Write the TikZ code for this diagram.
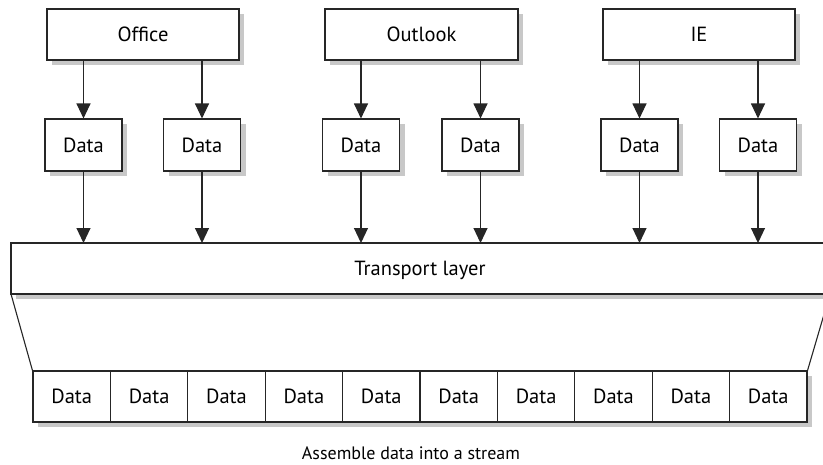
\documentclass[tikz,border=0pt]{standalone}
\usepackage{fontspec}
\setmainfont{PT Sans}
\usetikzlibrary{arrows.meta}
\definecolor{shadowgray}{RGB}{200,200,200}
\tikzset{
  box/.style={draw=black!85,line width=1.1pt,fill=white,inner sep=0pt,font=\fontsize{20.5}{22}\selectfont},
  appbox/.style={box,minimum width=192pt,minimum height=51pt},
  databox/.style={box,minimum width=77pt,minimum height=52pt},
  cellbox/.style={box,minimum width=77.4pt,minimum height=51pt},
  flow/.style={draw=black!85,line width=1.1pt,-{Triangle[width=14pt,length=15pt]}},
  edge/.style={draw=black!85,line width=1.1pt},
  shadowfill/.style={fill=shadowgray,draw=none}
}
\begin{document}
\begin{tikzpicture}[x=1pt,y=-1pt]
\fill[white] (0,0) rectangle (823,464);
\useasboundingbox (0,0) rectangle (823,464);
% shadows (offset 5 right, 5 down)
\fill[shadowfill] (52,14) rectangle (244,65);
\fill[shadowfill] (330,14) rectangle (523,65);
\fill[shadowfill] (608,14) rectangle (800,65);
\fill[shadowfill] (50,124) rectangle (127,176);
\fill[shadowfill] (168.5,124) rectangle (245.5,176);
\fill[shadowfill] (327.5,124) rectangle (404.5,176);
\fill[shadowfill] (447,124) rectangle (524,176);
\fill[shadowfill] (606,124) rectangle (683,176);
\fill[shadowfill] (724.5,124) rectangle (801.5,176);
\fill[shadowfill] (16,248) rectangle (823,299);
\fill[shadowfill] (38,376) rectangle (812,427);
% top applications
\node[appbox] (office) at (143,34.5) {Office};
\node[appbox,minimum width=193pt] (outlook) at (421.5,34.5) {Outlook};
\node[appbox] (ie) at (699,34.5) {IE};
% data boxes
\node[databox] (d1) at (83.5,145) {Data};
\node[databox] (d2) at (202,145) {Data};
\node[databox] (d3) at (361,145) {Data};
\node[databox] (d4) at (480.5,145) {Data};
\node[databox] (d5) at (639.5,145) {Data};
\node[databox] (d6) at (758,145) {Data};
% transport layer
\draw[box] (11,243) rectangle (830,294);
\node[font=\fontsize{20.5}{22}\selectfont,anchor=base,inner sep=0pt] (tltext) at (420,275) {Transport layer};
\coordinate (tltop) at (11,243);
% arrows app -> data
\foreach \a/\d in {office/d1,office/d2,outlook/d3,outlook/d4,ie/d5,ie/d6}{
  \draw[flow] (\a.south -| \d) -- (\d.north);
}
% arrows data -> transport
\foreach \d in {d1,d2,d3,d4,d5,d6}{
  \draw[flow] (\d.south) -- (tltop -| \d);
}
% stream cells
\foreach \i in {1,...,10}{
  \node[cellbox] (c\i) at ({33+77.4*(\i-0.5)},396.5) {Data};
}
% trapezoid sides
\coordinate (tlbl) at (11,294);
\coordinate (tlbr) at (830,294);
\draw[edge] (tlbl) -- (c1.north west);
\draw[edge] (tlbr) -- (c10.north east);
% caption
\node[font=\fontsize{18}{20}\selectfont,anchor=base,inner sep=0pt] (cap) at (411,459) {Assemble data into a stream};
\end{tikzpicture}
\end{document}
